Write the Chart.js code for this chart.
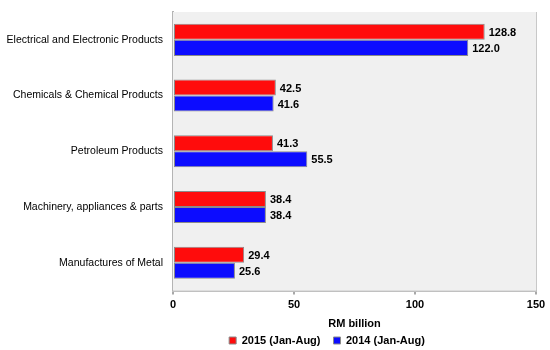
<!DOCTYPE html>
<html>
<head>
<meta charset="utf-8">
<script src="https://cdn.jsdelivr.net/npm/chart.js@4/dist/chart.umd.min.js"></script>
<style>
  html, body { margin: 0; padding: 0; background: #fff; }
  #wrap { width: 550px; height: 350px; }
</style>
</head>
<body>
<div id="wrap"><canvas id="exports"></canvas></div>
<script>
const categories = [
  "Electrical and Electronic Products",
  "Chemicals & Chemical Products",
  "Petroleum Products",
  "Machinery, appliances & parts",
  "Manufactures of Metal",
];
const values2015 = [128.8, 42.5, 41.3, 38.4, 29.4];
const values2014 = [122.0, 41.6, 55.5, 38.4, 25.6];
const seriesNames = ["2015 (Jan-Aug)", "2014 (Jan-Aug)"];
const xTicks = [0, 50, 100, 150];

const FONT = "'Liberation Sans', Arial, sans-serif";

// grey plot background, legend placement, value labels
const extras = {
  id: "extras",
  beforeLayout(chart) {
    const lg = chart.legend;
    if (lg && !lg._fitWrapped) {
      const fit = lg.fit;
      lg.fit = function () {
        fit.call(this);
        this.height = 19;
      };
      lg._fitWrapped = true;
    }
  },
  afterLayout(chart) {
    const lg = chart.legend;
    lg.left = 127;
    lg.right = 527;
    lg.top = 322;
    lg.bottom = 350;
  },
  beforeDatasetsDraw(chart) {
    const { ctx, chartArea: a } = chart;
    ctx.save();
    ctx.fillStyle = "#f0f0f0";
    ctx.fillRect(a.left, a.top, a.right - a.left, a.bottom - a.top);
    ctx.restore();
  },
  afterDatasetsDraw(chart) {
    const ctx = chart.ctx;
    ctx.save();
    ctx.font = "bold 11px " + FONT;
    ctx.fillStyle = "#000";
    ctx.textBaseline = "middle";
    ctx.textAlign = "left";
    chart.data.datasets.forEach((ds, i) => {
      chart.getDatasetMeta(i).data.forEach((bar, j) => {
        ctx.fillText(ds.data[j].toFixed(1), bar.x + 4, bar.y + 1);
      });
    });
    ctx.restore();
  },
};

new Chart(document.getElementById("exports"), {
  type: "bar",
  data: {
    labels: categories,
    datasets: [
      {
        label: seriesNames[0],
        data: values2015,
        backgroundColor: "#ff0c0c",
        borderColor: "#8a8a8a",
        borderWidth: 1,
        borderSkipped: false,
      },
      {
        label: seriesNames[1],
        data: values2014,
        backgroundColor: "#0c0cff",
        borderColor: "#8a8a8a",
        borderWidth: 1,
        borderSkipped: false,
      },
    ],
  },
  options: {
    indexAxis: "y",
    responsive: true,
    maintainAspectRatio: false,
    animation: false,
    layout: { padding: { top: 12, right: 14, left: 0, bottom: 0 } },
    datasets: { bar: { categoryPercentage: 0.575, barPercentage: 1 } },
    plugins: {
      legend: {
        position: "bottom",
        labels: {
          boxWidth: 7,
          boxHeight: 7,
          padding: 13,
          color: "#000",
          font: { family: FONT, size: 11, weight: "bold" },
        },
      },
      tooltip: { enabled: false },
    },
    scales: {
      x: {
        min: 0,
        max: 150,
        afterBuildTicks: (s) => { s.ticks = xTicks.map((v) => ({ value: v })); },
        grid: { color: "#c8c8c8", lineWidth: 2, tickLength: 4, tickColor: "#a8a8a8" },
        border: { display: true, color: "#c0c0c0", width: 2 },
        ticks: { color: "#000", padding: 4, font: { family: FONT, size: 11, weight: "bold" } },
        title: {
          display: true,
          text: "RM billion",
          color: "#000",
          padding: { top: 2, bottom: 0 },
          font: { family: FONT, size: 11, weight: "bold" },
        },
      },
      y: {
        afterFit: (s) => {
          s.width = 173;
          s.paddingTop = 0;
          s.paddingBottom = 0;
        },
        grid: { display: false, drawTicks: false },
        border: { display: true, color: "#b4b4b4", width: 2 },
        ticks: { color: "#000", padding: 10, font: { family: FONT, size: 10.5 } },
      },
    },
  },
  plugins: [extras],
});
</script>
</body>
</html>
